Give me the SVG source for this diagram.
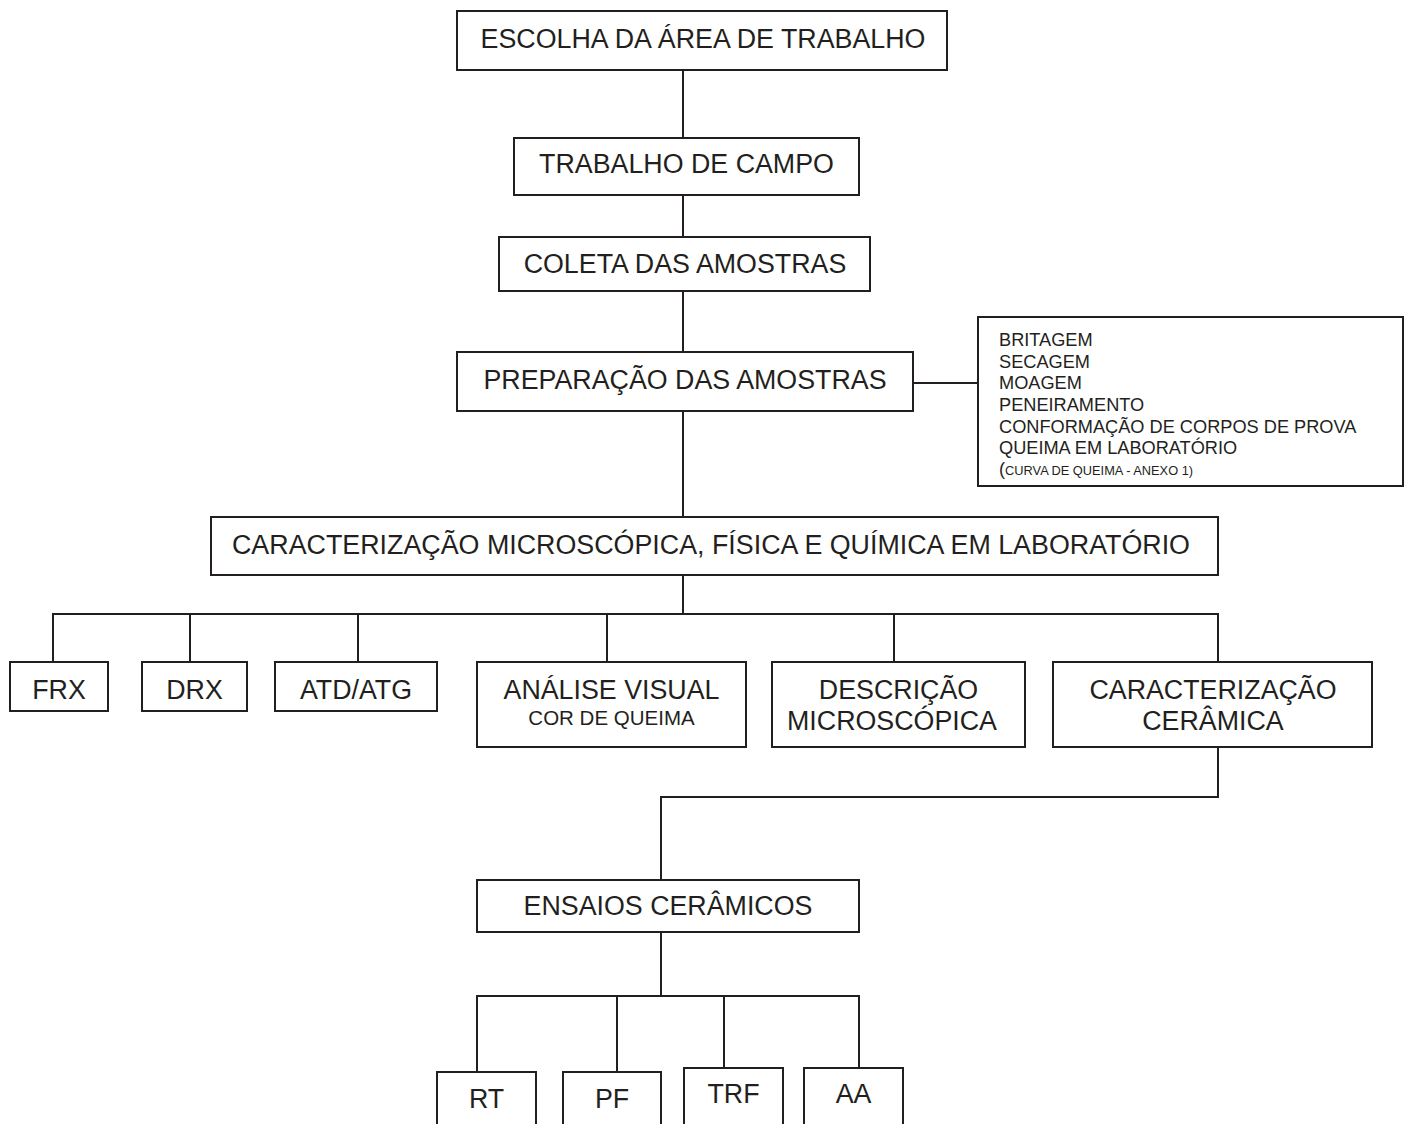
<svg xmlns="http://www.w3.org/2000/svg" width="1408" height="1124" viewBox="0 0 1408 1124">
<style>
rect{fill:#fff;stroke:#231f20;stroke-width:2}
rect.bg{stroke:none}
text{font-family:"Liberation Sans",Arial,sans-serif;fill:#231f20;font-size:26.8px}
.m{text-anchor:middle}
.s{font-size:18.2px}
.xs{font-size:12.8px}
.c{font-size:20.5px}
#connectors path{fill:none;stroke:#231f20;stroke-width:2}
</style>
<rect class="bg" width="1408" height="1124"/>
<g id="connectors">
<path d="M683 70V138M683 195V237M683 291V352M913 383H978M683 411V517M683 575V614"/>
<path d="M53 662V614H1218V662M190 614V662M358 614V662M607 614V662M894 614V662"/>
<path d="M1218 747V797H661V880M661 932V996"/>
<path d="M477 1072V996H859V1068M617 996V1072M724 996V1068"/>
</g>
<g id="n1"><rect x="457" y="11" width="490" height="59"/><text class="m" x="703" y="48">ESCOLHA DA ÁREA DE TRABALHO</text></g>
<g id="n2"><rect x="514" y="138" width="345" height="57"/><text class="m" x="686.5" y="173">TRABALHO DE CAMPO</text></g>
<g id="n3"><rect x="499" y="237" width="371" height="54"/><text class="m" x="685" y="273">COLETA DAS AMOSTRAS</text></g>
<g id="n4"><rect x="457" y="352" width="456" height="59"/><text class="m" x="685" y="389">PREPARAÇÃO DAS AMOSTRAS</text></g>
<g id="n4b"><rect x="978" y="317" width="425" height="169"/>
<text class="s" x="999" y="346">BRITAGEM</text>
<text class="s" x="999" y="368">SECAGEM</text>
<text class="s" x="999" y="389">MOAGEM</text>
<text class="s" x="999" y="411">PENEIRAMENTO</text>
<text class="s" x="999" y="433">CONFORMAÇÃO DE CORPOS DE PROVA</text>
<text class="s" x="999" y="454">QUEIMA EM LABORATÓRIO</text>
<text class="s" x="999" y="475">(<tspan class="xs">CURVA DE QUEIMA - ANEXO 1)</tspan></text>
</g>
<g id="n5"><rect x="211" y="517" width="1007" height="58"/><text x="232" y="554" textLength="958" lengthAdjust="spacingAndGlyphs">CARACTERIZAÇÃO MICROSCÓPICA, FÍSICA E QUÍMICA EM LABORATÓRIO</text></g>
<g id="frx"><rect x="10" y="662" width="98" height="49"/><text class="m" x="59" y="699">FRX</text></g>
<g id="drx"><rect x="142" y="662" width="105" height="49"/><text class="m" x="194.5" y="699">DRX</text></g>
<g id="atd"><rect x="275" y="662" width="162" height="49"/><text class="m" x="356" y="699">ATD/ATG</text></g>
<g id="anv"><rect x="477" y="662" width="269" height="85"/><text class="m" x="611.5" y="699">ANÁLISE VISUAL</text><text class="m c" x="611.5" y="725">COR DE QUEIMA</text></g>
<g id="dsc"><rect x="772" y="662" width="253" height="85"/><text class="m" x="898.5" y="699">DESCRIÇÃO</text><text class="m" x="892" y="730">MICROSCÓPICA</text></g>
<g id="crc"><rect x="1053" y="662" width="319" height="85"/><text class="m" x="1213" y="699">CARACTERIZAÇÃO</text><text class="m" x="1213" y="730">CERÂMICA</text></g>
<g id="ens"><rect x="477" y="880" width="382" height="52"/><text class="m" x="668" y="915">ENSAIOS CERÂMICOS</text></g>
<g id="rt"><rect x="437" y="1072" width="99" height="60"/><text class="m" x="486.5" y="1108">RT</text></g>
<g id="pf"><rect x="563" y="1072" width="98" height="60"/><text class="m" x="612" y="1108">PF</text></g>
<g id="trf"><rect x="684" y="1068" width="99" height="64"/><text class="m" x="733.5" y="1103">TRF</text></g>
<g id="aa"><rect x="804" y="1068" width="99" height="64"/><text class="m" x="853.5" y="1103">AA</text></g>
</svg>
